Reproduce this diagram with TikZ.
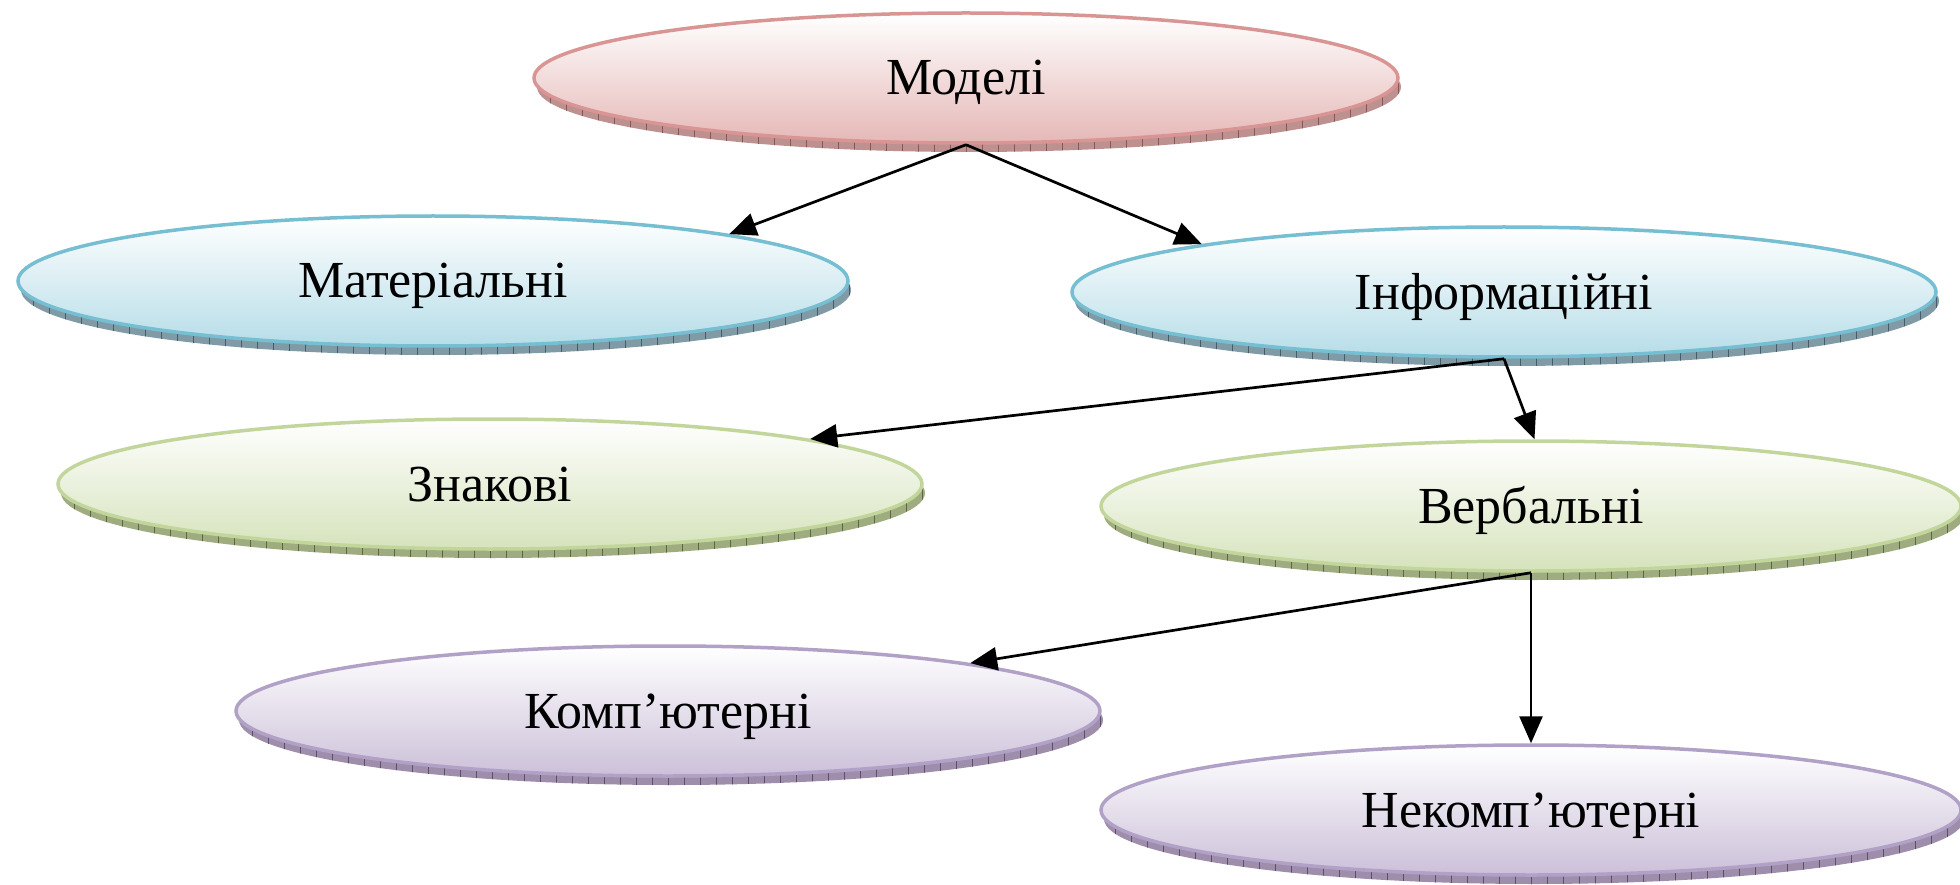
\documentclass[tikz,border=0pt]{standalone}
\usepackage{fontspec}
\setmainfont{Liberation Serif}
\usetikzlibrary{arrows.meta,shapes.geometric}

\definecolor{redline}{RGB}{217,149,148}
\definecolor{redfill}{RGB}{229,184,183}
\definecolor{redshadow}{RGB}{190,145,145}
\definecolor{redtick}{RGB}{140,85,85}
\definecolor{blueline}{RGB}{118,190,210}
\definecolor{bluefill}{RGB}{182,221,232}
\definecolor{blueshadow}{RGB}{128,155,165}
\definecolor{bluetick}{RGB}{70,92,102}
\definecolor{greenline}{RGB}{194,214,155}
\definecolor{greenfill}{RGB}{214,227,188}
\definecolor{greenshadow}{RGB}{158,172,128}
\definecolor{greentick}{RGB}{92,102,70}
\definecolor{purpleline}{RGB}{178,161,199}
\definecolor{purplefill}{RGB}{204,192,217}
\definecolor{purpleshadow}{RGB}{158,142,172}
\definecolor{purpletick}{RGB}{92,80,102}

% #1 x, #2 y, #3 half width, #4 shadow colour, #5 tick colour
\newcommand\diskshadow[5]{%
  \fill[#4] (#1+3,#2+9) ellipse [x radius=#3pt, y radius=65pt];
  \begin{scope}
    \clip (#1+3,#2+9) ellipse [x radius=#3pt, y radius=65pt];
    \foreach \k in {-28,...,28}
      \draw[#5, line width=0.9pt] (#1+\k*16,#2) -- (#1+\k*16,#2+90);
  \end{scope}}

\tikzset{
  disk/.style={ellipse, inner sep=0pt, minimum width=864pt, minimum height=130pt,
    line width=3.5pt, text=black, font=\fontsize{52}{60}\selectfont,
    text height=34pt, text depth=0pt},
  reddisk/.style={disk, draw=redline, top color=white, bottom color=redfill},
  bluedisk/.style={disk, draw=blueline, top color=white, bottom color=bluefill},
  greendisk/.style={disk, draw=greenline, top color=white, bottom color=greenfill},
  purpledisk/.style={disk, draw=purpleline, top color=white, bottom color=purplefill},
  link/.style={line width=2.7pt, -{Triangle[length=27pt,width=23pt]}}
}

\begin{document}
\begin{tikzpicture}[x=1pt,y=-1pt]
\useasboundingbox (0,0) rectangle (1960,885);
\fill[white] (0,0) rectangle (1960,885);

\diskshadow{966}{78}{432}{redshadow}{redtick}
\diskshadow{433}{281}{415}{blueshadow}{bluetick}
\diskshadow{1504}{292}{432}{blueshadow}{bluetick}
\diskshadow{490}{484}{432}{greenshadow}{greentick}
\diskshadow{1531}{506}{430}{greenshadow}{greentick}
\diskshadow{668}{711}{432}{purpleshadow}{purpletick}
\diskshadow{1531}{810}{430}{purpleshadow}{purpletick}

\node[reddisk] (mod) at (966,78) {Моделі};
\node[bluedisk, minimum width=830pt] (mat) at (433,281) {Матеріальні};
\node[bluedisk] (inf) at (1504,292) {Інформаційні};
\node[greendisk] (zn) at (490,484) {Знакові};
\node[greendisk, minimum width=860pt] (verb) at (1531,506) {Вербальні};
\node[purpledisk] (komp) at (668,711) {Комп’ютерні};
\node[purpledisk, minimum width=860pt] (nekomp) at (1531,810) {Некомп’ютерні};

\draw[link] (mod.south) -- (mat.9);
\draw[link] (mod.south) -- (inf.171.5);
\draw[link] (inf.south) -- (zn.8.6);
\draw[link] (inf.south) -- (verb.87);
\draw[link] (verb.south) -- (komp.9.1);
\draw[link] (verb.south) -- (nekomp.north);
\end{tikzpicture}
\end{document}
